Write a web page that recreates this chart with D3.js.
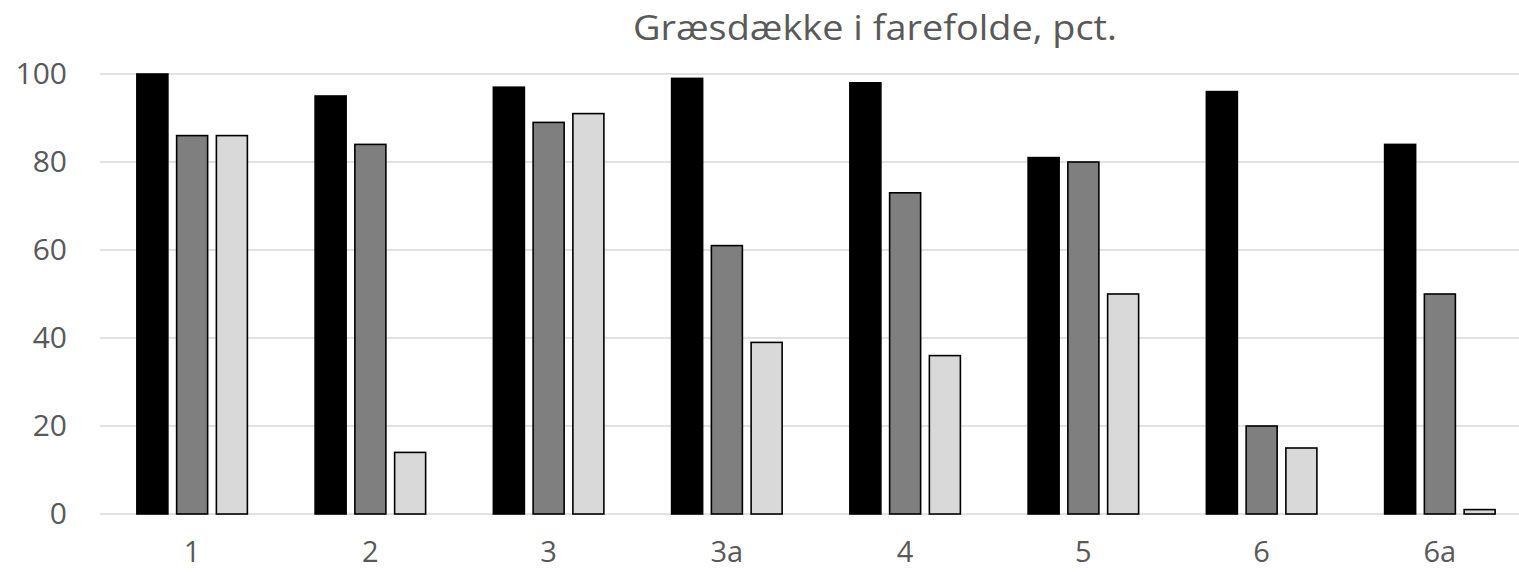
<!DOCTYPE html>
<html>
<head>
<meta charset="utf-8">
<script src="https://cdn.jsdelivr.net/npm/d3@7"></script>
<style>
  html, body { margin: 0; padding: 0; background: #fff; }
  svg { display: block; }
</style>
</head>
<body>
<svg id="chart" width="1519" height="574"></svg>
<script>
const categories = ["1", "2", "3", "3a", "4", "5", "6", "6a"];
const seriesNames = ["s1", "s2", "s3"];
const series1 = [100, 95, 97, 99, 98, 81, 96, 84];
const series2 = [86, 84, 89, 61, 73, 80, 20, 50];
const series3 = [86, 14, 91, 39, 36, 50, 15, 1];
const yTicks = [0, 20, 40, 60, 80, 100];
const title = "Græsdække i farefolde, pct.";
const colors = ["#000000", "#7f7f7f", "#d9d9d9"];

const allSeries = [series1, series2, series3];
const svg = d3.select("#chart");
const W = 1519;

const x = d3.scaleBand().domain(categories).range([103, 1529])
  .paddingInner(0.38).paddingOuter(0.19);
const xs = d3.scaleBand().domain(seriesNames).range([0, x.bandwidth()])
  .paddingInner(0.22);
const y = d3.scaleLinear().domain([0, 100]).range([514, 74]);

// gridlines
svg.append("g").selectAll("line").data(yTicks).join("line")
  .attr("x1", 100).attr("x2", W)
  .attr("y1", d => y(d)).attr("y2", d => y(d))
  .attr("stroke", "#d9d9d9").attr("stroke-width", 1.3);

// y axis labels
const yAxis = d3.axisLeft(y).tickValues(yTicks).tickSize(0).tickPadding(0);
const gy = svg.append("g").attr("transform", "translate(67,0)").call(yAxis);
gy.select(".domain").remove();
gy.selectAll("text")
  .attr("fill", "#595959")
  .style("font-family", "'Open Sans', sans-serif")
  .style("font-size", "30px");

// bars
const g = svg.append("g");
categories.forEach((c, i) => {
  const grp = g.append("g").attr("transform", `translate(${x(c)},0)`);
  grp.selectAll("rect").data(seriesNames.map((s, k) => ({s, k, v: allSeries[k][i]})))
    .join("rect")
    .attr("x", d => xs(d.s))
    .attr("width", xs.bandwidth())
    .attr("y", d => y(d.v))
    .attr("height", d => y(0) - y(d.v))
    .attr("fill", d => colors[d.k])
    .attr("stroke", "#000")
    .attr("stroke-width", 1.6);
});

// x axis labels
const xAxis = d3.axisBottom(x).tickSize(0).tickPadding(0);
const gx = svg.append("g").attr("transform", "translate(0,541)").call(xAxis);
gx.select(".domain").remove();
gx.selectAll("text")
  .attr("fill", "#595959")
  .style("font-family", "'Open Sans', sans-serif")
  .style("font-size", "29px");

// title
svg.append("text")
  .attr("x", 875).attr("y", 40)
  .attr("text-anchor", "middle")
  .attr("fill", "#595959")
  .style("font-family", "'Open Sans', sans-serif")
  .style("font-size", "34px")
  .attr("textLength", 484)
  .attr("lengthAdjust", "spacingAndGlyphs")
  .text(title);
</script>
</body>
</html>
